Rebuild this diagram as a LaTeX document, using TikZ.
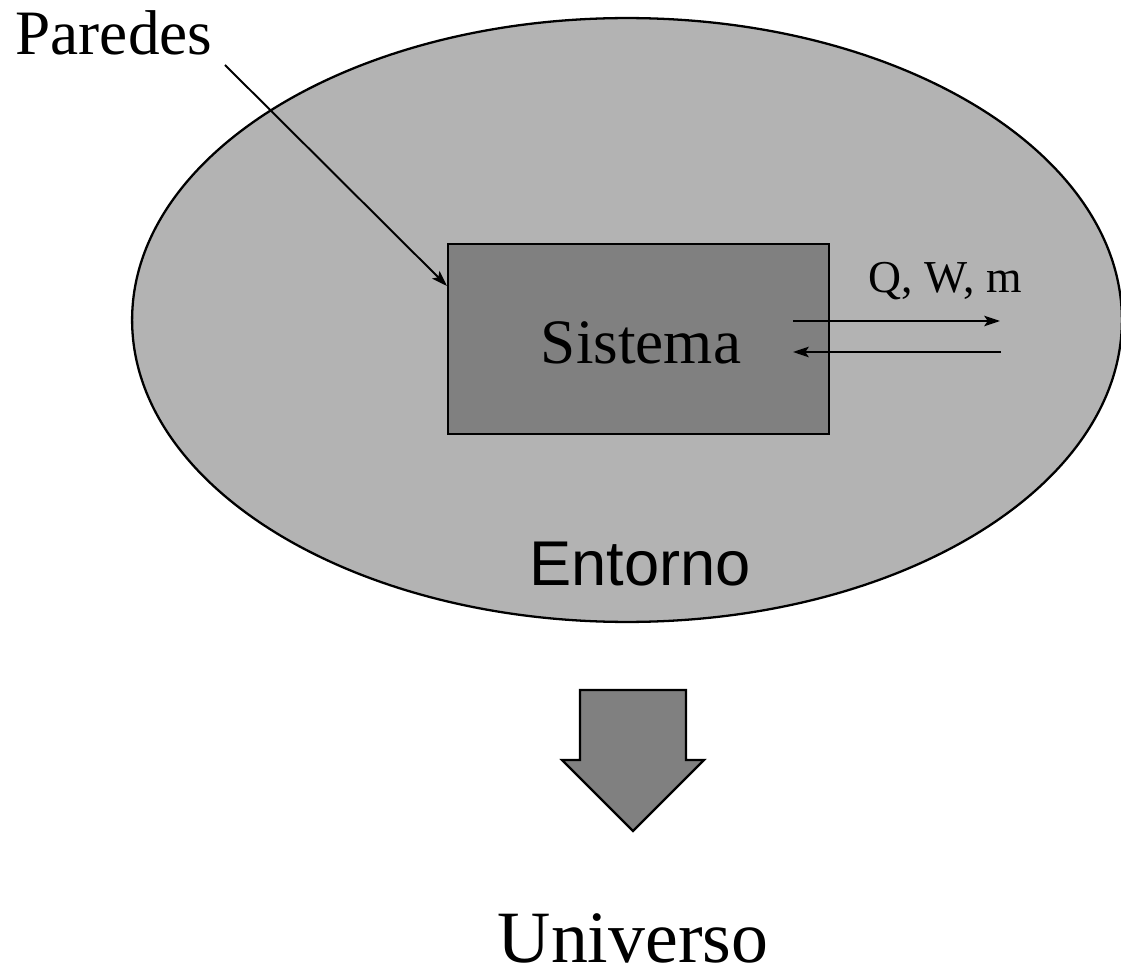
\documentclass[tikz,border=0pt]{standalone}
\usepackage{fontspec}
\setmainfont{Liberation Serif}
\setsansfont{Liberation Sans}
\usetikzlibrary{arrows.meta}
\begin{document}
\begin{tikzpicture}[x=0.02cm,y=-0.02cm,
        wall/.style={line width=1.3pt},
        flow/.style={line width=1.1pt,-{Stealth[length=9pt,width=6pt,inset=2pt]}},
        bigtext/.style={anchor=base,inner sep=0pt,text depth=0pt,font=\fontsize{36}{43}\selectfont}]
                \useasboundingbox (0,0) rectangle (1121,979);
                \coordinate (EntornoCenter) at (627,320);
                \coordinate (SistemaTopLeft) at (448,244);
                \coordinate (SistemaBottomRight) at (829,434);
                \coordinate (ParedesStart) at (225,65);
                \coordinate (ParedesEnd) at (447,286);
                \coordinate (OutLeft) at (793,321);
                \coordinate (OutRight) at (1000,321);
                \coordinate (InLeft) at (793,352);
                \coordinate (InRight) at (1001,352);

                \draw[wall,fill={rgb,255:red,179;green,179;blue,179}] (EntornoCenter) ellipse[x radius=9.9cm,y radius=6.04cm];
                \draw[wall,fill={rgb,255:red,128;green,128;blue,128}] (SistemaTopLeft) rectangle (SistemaBottomRight);

                \node[bigtext] (Sistema) at (641,363) {Sistema};
                \node[bigtext,font=\sffamily\fontsize{36}{43}\selectfont] (Entorno) at (640,585) {Entorno};
                \node[bigtext] (Paredes) at (114,55) {Paredes};
                \node[bigtext,font=\fontsize{42}{50}\selectfont] (Universo) at (633,962) {Universo};
                \node[bigtext,font=\fontsize{26}{31}\selectfont] (QWm) at (945,293) {Q, W, m};

                \draw[flow] (ParedesStart)--(ParedesEnd);
                \draw[flow] (OutLeft)--(OutRight);
                \draw[flow] (InRight)--(InLeft);

                \draw[wall,fill={rgb,255:red,128;green,128;blue,128},line join=miter]
                    (580,690)--(686,690)--(686,760)--(704,760)--(633,831)--(562,760)--(580,760)--cycle;
            \end{tikzpicture}
\end{document}
